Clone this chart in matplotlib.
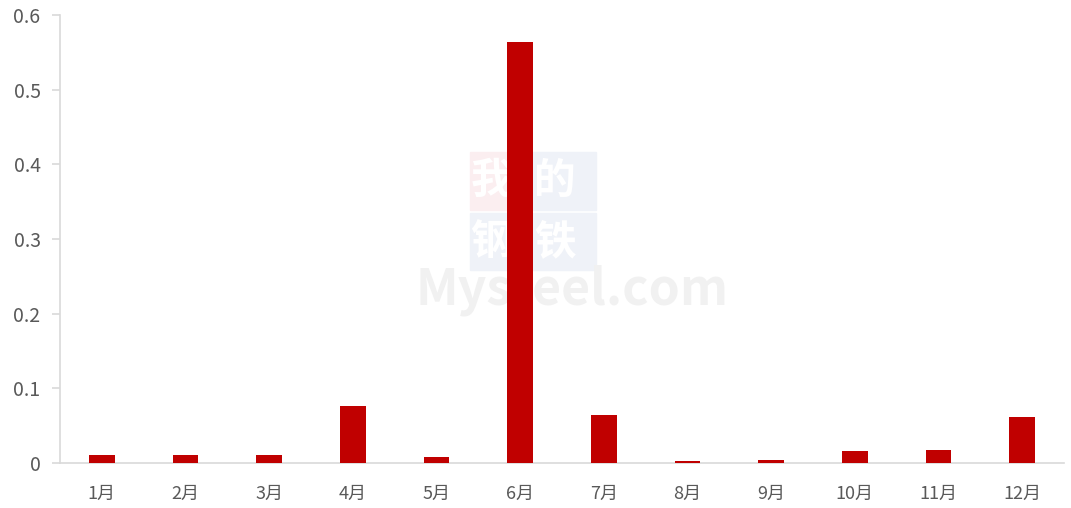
import matplotlib
matplotlib.use("Agg")
import matplotlib.pyplot as plt
from matplotlib.patches import Rectangle

plt.rcParams['font.family'] = ['Noto Sans CJK SC', 'DejaVu Sans']

months = ['1月', '2月', '3月', '4月', '5月', '6月', '7月', '8月', '9月', '10月', '11月', '12月']
values = [0.011, 0.011, 0.011, 0.076, 0.0075, 0.564, 0.064, 0.0023, 0.0038, 0.016, 0.0175, 0.062]
yticks = [0, 0.1, 0.2, 0.3, 0.4, 0.5, 0.6]
ytick_labels = ['0', '0.1', '0.2', '0.3', '0.4', '0.5', '0.6']

W, H = 1071, 508
fig = plt.figure(figsize=(W / 100, H / 100), dpi=100)
ax = fig.add_axes([60 / W, 45 / H, 1004 / W, 448 / H])
ax.set_zorder(1)
ax.patch.set_alpha(0)

# faint watermark behind the chart
def px_rect(x0, y0, x1, y1, color):
    fig.patches.append(Rectangle((x0 / W, 1 - y1 / H), (x1 - x0) / W, (y1 - y0) / H,
                                 transform=fig.transFigure, color=color, zorder=0))

px_rect(470, 152, 513, 210, '#fbeef0')
px_rect(513, 152, 596, 210, '#eff2f8')
px_rect(470, 213, 596, 270, '#eff2f8')
for ch, cx, cy in [('我', 491, 181), ('的', 555, 181), ('钢', 491, 242), ('铁', 555, 242)]:
    fig.text(cx / W, 1 - cy / H, ch, ha='center', va='center', fontsize=30,
             color='white', fontweight='bold', zorder=0)
fig.text(572 / W, 1 - 290 / H, 'Mysteel.com', ha='center', va='center', fontsize=36,
         color='#f1f1f1', fontweight='bold', zorder=0)

x = range(len(months))
ax.bar(x, values, width=0.31, color='#C00000', zorder=3)

ax.set_xlim(-0.5, len(months) - 0.5)
ax.set_ylim(0, 0.6)
ax.set_yticks(yticks)
ax.set_yticklabels(ytick_labels)
ax.set_xticks(list(x))
ax.set_xticklabels(months)

for s in ['top', 'right']:
    ax.spines[s].set_visible(False)
for s in ['left', 'bottom']:
    ax.spines[s].set_color('#D9D9D9')
    ax.spines[s].set_linewidth(1.2)

ax.tick_params(axis='y', colors='#D9D9D9', labelcolor='#595959', labelsize=14,
               length=6, width=1.2, pad=8)
ax.tick_params(axis='x', length=0, labelcolor='#595959', labelsize=13, pad=16)

fig.savefig('out.png', dpi=100)
